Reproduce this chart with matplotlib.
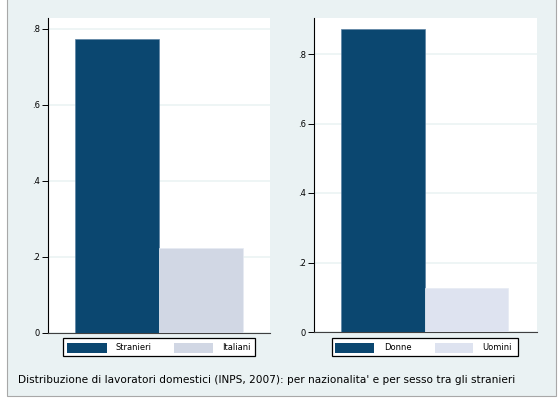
import matplotlib
matplotlib.use("Agg")
import matplotlib.pyplot as plt
from matplotlib.patches import Rectangle

# ---- data ----
left_categories = ["Stranieri", "Italiani"]
left_values = [0.775, 0.225]
right_categories = ["Donne", "Uomini"]
right_values = [0.873, 0.127]
ytick_values = [0, 0.2, 0.4, 0.6, 0.8]
ytick_labels = ["0", ".2", ".4", ".6", ".8"]
caption = "Distribuzione di lavoratori domestici (INPS, 2007): per nazionalita' e per sesso tra gli stranieri"

# ---- style ----
W, H = 560, 398
BG = "#eaf2f3"
DARK = "#0b4770"
LIGHT_L = "#d1d7e4"
LIGHT_R = "#dee3f0"
FONT = "DejaVu Sans"

fig = plt.figure(figsize=(W / 100, H / 100), dpi=100)
fig.patch.set_facecolor("white")


def fx(x):
    return x / W


def fy(y):
    return 1 - y / H


# graph region background with border (top edge pushed outside the canvas)
fig.add_artist(Rectangle((fx(7), fy(396)), fx(556) - fx(7), fy(-3) - fy(396),
                         transform=fig.transFigure, facecolor=BG,
                         edgecolor="#a8a8a8", linewidth=0.8, zorder=0))


def panel(x0, x1, ytop, ybot, values, colors, ymax, left_margin_px, bar_px):
    ax = fig.add_axes([fx(x0), fy(ybot), fx(x1) - fx(x0), fy(ytop) - fy(ybot)])
    ax.set_facecolor("white")
    xs = list(range(len(values)))
    ax.bar(xs, values, width=1.0, color=colors, edgecolor=["#5d83a3", "#e6ebf3"],
           linewidth=0.5, zorder=3)
    width_px = x1 - x0
    lo = -0.5 - left_margin_px / bar_px
    ax.set_xlim(lo, lo + width_px / bar_px)
    ax.set_ylim(0, ymax)
    ax.set_xticks([])
    ax.set_yticks(ytick_values)
    ax.set_yticklabels(ytick_labels, fontsize=6.0, family=FONT)
    ax.tick_params(axis="y", length=4.5, width=0.7, pad=1.5, color="black")
    ax.grid(axis="y", color=BG, linewidth=1.1, zorder=1)
    ax.set_axisbelow(True)
    for s in ("top", "right"):
        ax.spines[s].set_visible(False)
    ax.spines["left"].set_color("black")
    ax.spines["left"].set_linewidth(0.8)
    ax.spines["bottom"].set_color("#404040")
    ax.spines["bottom"].set_linewidth(0.8)
    return ax


ax1 = panel(48, 270, 18, 333, left_values, [DARK, LIGHT_L], 315 / 380, 27, 84)
ax2 = panel(314, 537, 18, 332, right_values, [DARK, LIGHT_R], 314 / 347.5, 27, 83.5)


def legend(box, items):
    bx0, bx1, by0, by1 = box
    fig.add_artist(Rectangle((fx(bx0), fy(by1)), fx(bx1) - fx(bx0), fy(by0) - fy(by1),
                             transform=fig.transFigure, facecolor="white",
                             edgecolor="black", linewidth=0.9, zorder=5))
    for (px0, px1, tx, label, color) in items:
        fig.add_artist(Rectangle((fx(px0), fy(353)), fx(px1) - fx(px0), fy(343) - fy(353),
                                 transform=fig.transFigure, facecolor=color,
                                 edgecolor="none", zorder=6))
        fig.text(fx(tx), fy(348), label, fontsize=6.0, family=FONT,
                 ha="center", va="center", zorder=7)


legend((63, 255, 338, 356),
       [(67, 107, 134, left_categories[0], DARK),
        (174, 213, 236, left_categories[1], LIGHT_L)])
legend((332, 518, 338, 356),
       [(335, 374, 398, right_categories[0], DARK),
        (435, 473, 497, right_categories[1], LIGHT_R)])

cap = fig.text(fx(18), fy(380), caption, fontsize=6.6, family=FONT,
               ha="left", va="center", zorder=7)
# fit caption to the measured width in the reference
fig.canvas.draw()
r = fig.canvas.get_renderer()
w = cap.get_window_extent(r).width
target = 512 - 18
cap.set_fontsize(6.6 * target / w)

fig.savefig("out.png", dpi=100, facecolor="white")
